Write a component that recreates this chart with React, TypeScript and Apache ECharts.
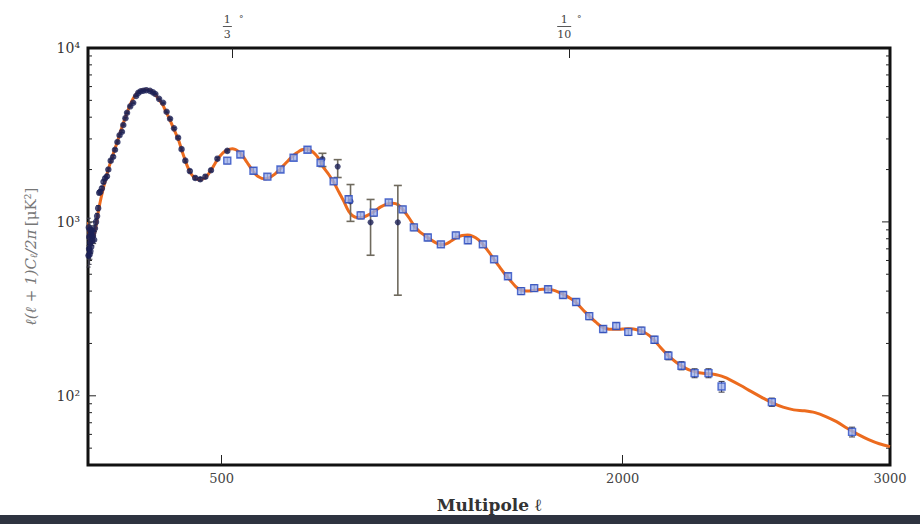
import React, { useEffect, useRef } from "react";
import * as echarts from "echarts";

// Theory curve (orange): [multipole ℓ, ℓ(ℓ+1)Cℓ/2π in μK²]
const theoryCurve: [number, number][] = [
  [2, 1000], [6, 790], [12, 740], [20, 800], [30, 950], [40, 1180], [50, 1400], [60, 1620], [70, 1860],
  [80, 2100], [90, 2350], [100, 2620], [110, 2900], [120, 3250], [130, 3620], [140, 4000], [150, 4400],
  [160, 4800], [170, 5150], [180, 5420], [190, 5600], [200, 5700], [210, 5750], [220, 5760], [230, 5720],
  [240, 5620], [250, 5440], [260, 5200], [270, 4950], [280, 4700], [290, 4350], [300, 4050], [310, 3750],
  [320, 3450], [330, 3180], [340, 2920], [350, 2600], [360, 2350], [370, 2120], [380, 1960], [390, 1850],
  [400, 1790], [410, 1760], [420, 1750], [430, 1765], [440, 1810], [450, 1880], [460, 1980], [470, 2100],
  [480, 2230], [490, 2350], [500, 2450], [510, 2530], [520, 2590], [530, 2620], [540, 2630], [550, 2610],
  [560, 2560], [570, 2480], [580, 2380], [590, 2260], [600, 2140], [610, 2030], [620, 1930], [630, 1860],
  [640, 1810], [650, 1780], [660, 1770], [670, 1775], [680, 1800], [690, 1840], [700, 1890], [710, 1950],
  [720, 2020], [730, 2100], [740, 2180], [750, 2260], [760, 2340], [770, 2420], [780, 2490], [790, 2550],
  [800, 2600], [810, 2620], [820, 2620], [830, 2590], [840, 2530], [850, 2450], [860, 2350], [877, 2100],
  [900, 1880], [919, 1690], [940, 1470], [955, 1330], [975, 1150], [990, 1085], [1005, 1060], [1025, 1060],
  [1045, 1090], [1069, 1145], [1095, 1220], [1120, 1270], [1140, 1280], [1160, 1255], [1181, 1160],
  [1200, 1060], [1220, 950], [1240, 880], [1260, 835], [1280, 795], [1300, 760], [1320, 740], [1340, 748],
  [1360, 780], [1380, 815], [1400, 835], [1420, 840], [1440, 825], [1460, 790], [1480, 735], [1500, 670],
  [1520, 605], [1540, 550], [1560, 500], [1580, 460], [1600, 425], [1620, 405], [1640, 400], [1660, 402],
  [1680, 407], [1700, 410], [1720, 410], [1740, 405], [1760, 395], [1780, 382], [1800, 367], [1820, 350],
  [1840, 326], [1860, 303], [1880, 283], [1900, 265], [1920, 250], [1940, 243], [1960, 241], [1980, 241],
  [2000, 242], [2020, 243], [2040, 242], [2060, 238], [2080, 232], [2100, 222], [2120, 207], [2140, 191],
  [2160, 177], [2180, 165], [2200, 156], [2220, 149], [2240, 143], [2260, 139], [2280, 136], [2300, 135],
  [2320, 134], [2340, 133], [2360, 131], [2380, 128], [2400, 124], [2440, 115], [2480, 106], [2520, 98],
  [2560, 91], [2600, 86], [2640, 83], [2680, 82], [2720, 80], [2760, 76], [2800, 71], [2840, 65],
  [2880, 60], [2920, 56], [2960, 53], [3000, 51],
];

// Low-ℓ measurements (dark navy circles): [ℓ, value, error]
const lowEllPoints: [number, number, number][] = [
  [2, 640, 90], [3, 930, 120], [4, 700, 90], [5, 820, 90], [6, 650, 80], [7, 900, 90], [8, 760, 80],
  [9, 680, 70], [10, 850, 80], [12, 720, 60], [14, 890, 60], [16, 780, 50], [18, 830, 50], [20, 870, 50],
  [23, 790, 40], [26, 920, 40], [30, 1000, 40], [34, 1080, 40], [38, 1200, 40], [42, 1470, 40],
  [46, 1490, 40], [52, 1560, 40], [58, 1700, 40], [64, 1780, 40], [71, 1830, 40], [76, 2000, 40],
  [85, 2250, 40], [94, 2370, 40], [101, 2600, 40], [110, 2880, 40], [118, 3150, 40], [127, 3300, 40],
  [132, 3610, 40], [140, 3950, 40], [146, 4240, 40], [158, 4620, 40], [169, 4840, 40], [180, 5300, 40],
  [188, 5520, 40], [197, 5640, 40], [207, 5680, 40], [218, 5720, 40], [232, 5670, 40], [243, 5560, 40],
  [252, 5440, 40], [266, 5100, 40], [281, 4840, 40], [294, 4300, 40], [307, 3920, 40], [322, 3450, 40],
  [337, 3050, 40], [350, 2620, 40], [364, 2250, 40], [381, 1960, 40], [401, 1790, 40], [420, 1760, 40],
  [439, 1820, 40], [460, 1980, 40], [484, 2310, 40], [521, 2560, 40],
];

// High-ℓ measurements (blue squares): [ℓ, value, error]
const highEllPoints: [number, number, number][] = [
  [521, 2250, 90], [570, 2440, 90], [619, 1970, 80], [671, 1820, 70], [720, 2000, 70], [769, 2340, 80],
  [821, 2600, 90], [870, 2190, 80], [919, 1710, 70], [975, 1350, 60], [1020, 1090, 50], [1069, 1130, 50],
  [1125, 1295, 50], [1177, 1180, 50], [1219, 930, 40], [1271, 814, 35], [1320, 743, 30], [1376, 837, 35],
  [1421, 785, 35], [1477, 743, 30], [1519, 609, 25], [1571, 487, 20], [1620, 400, 18], [1669, 416, 18],
  [1721, 410, 18], [1777, 380, 16], [1826, 346, 15], [1875, 287, 13], [1927, 242, 11], [1976, 252, 11],
  [2021, 233, 11], [2070, 237, 11], [2119, 210, 10], [2171, 170, 9], [2220, 149, 8], [2269, 135, 8],
  [2321, 135, 8], [2370, 113, 8], [2558, 92, 5], [2858, 62, 4],
];

// Sparse measurements with large error bars: [ℓ, value, low, high]
const sparsePoints: [number, number, number, number][] = [
  [877, 2300, 2080, 2480], [934, 2080, 1800, 2280], [982, 1311, 1007, 1640],
  [1057, 994, 643, 1346], [1159, 994, 379, 1620],
];

const bottomTickValues = [500, 2000];
const bottomLabelValues = [500, 2000, 3000];
const yMajorLabels: Record<number, string> = { 100: "10²", 1000: "10³", 10000: "10⁴" };
const yMajorTicks = [100, 1000];
const yMinorTicks = [
  50, 60, 70, 80, 90, 200, 300, 400, 500, 600, 700, 800, 900,
  2000, 3000, 4000, 5000, 6000, 7000, 8000, 9000,
];
// Top axis: angular scale, [ℓ position, numerator, denominator]
const angularTicks: [number, string, string][] = [
  [540, "1", "3"],
  [1800, "1", "10"],
];

const SERIF = "'DejaVu Serif', 'Liberation Serif', serif";

export default function App() {
  const ref = useRef<HTMLDivElement>(null);

  useEffect(() => {
    if (!ref.current) return;
    const chart = echarts.init(ref.current, null, { renderer: "svg" });

    const errRender = (color: string, cap: number, width: number) => (params: any, api: any) => {
      const x = api.value(0);
      const lo = api.coord([x, api.value(1)]);
      const hi = api.coord([x, api.value(2)]);
      const st = { stroke: color, lineWidth: width };
      return {
        type: "group",
        children: [
          { type: "line", shape: { x1: lo[0], y1: lo[1], x2: hi[0], y2: hi[1] }, style: st },
          { type: "line", shape: { x1: lo[0] - cap, y1: lo[1], x2: lo[0] + cap, y2: lo[1] }, style: st },
          { type: "line", shape: { x1: hi[0] - cap, y1: hi[1], x2: hi[0] + cap, y2: hi[1] }, style: st },
        ],
      };
    };

    const yTickRender = (params: any, api: any) => {
      const p = api.coord([0, api.value(1)]);
      const len = api.value(2);
      const cs = params.coordSys;
      const st = { stroke: "#222", lineWidth: 1 };
      return {
        type: "group",
        children: [
          { type: "line", shape: { x1: cs.x, y1: p[1], x2: cs.x + len, y2: p[1] }, style: st },
          { type: "line", shape: { x1: cs.x + cs.width - len, y1: p[1], x2: cs.x + cs.width, y2: p[1] }, style: st },
        ],
      };
    };

    const option: any = {
      animation: false,
      backgroundColor: "#ffffff",
      grid: {
        left: 88, right: 30, top: 48, bottom: 59,
        show: true, borderColor: "#111", borderWidth: 3, backgroundColor: "#ffffff",
      },
      xAxis: [
        {
          type: "value", min: 0, max: 3000, position: "bottom",
          axisLine: { show: false },
          splitLine: { show: false },
          axisTick: { show: true, inside: true, length: 10, customValues: bottomTickValues, lineStyle: { color: "#222", width: 1 } },
          axisLabel: {
            customValues: bottomLabelValues, margin: 7,
            fontFamily: SERIF, fontSize: 13, color: "#444",
            formatter: (v: number) => String(v),
          },
          name: "Multipole ℓ", nameLocation: "middle", nameGap: 31,
          nameTextStyle: { fontFamily: SERIF, fontSize: 17, fontWeight: "bold", color: "#333" },
        },
        {
          type: "value", min: 0, max: 3000, position: "top",
          axisLine: { show: false },
          splitLine: { show: false },
          axisTick: { show: true, inside: true, length: 10, customValues: angularTicks.map((t) => t[0]), lineStyle: { color: "#222", width: 1 } },
          axisLabel: { show: false },
        },
      ],
      yAxis: [
        {
          type: "log", logBase: 10, min: 40, max: 10000, position: "left",
          axisLine: { show: false },
          splitLine: { show: false },
          axisTick: { show: false },
          axisLabel: {
            margin: 8, fontFamily: SERIF, fontSize: 14, color: "#333",
            showMinLabel: false,
            formatter: (v: number) => yMajorLabels[Math.round(v)] || "",
          },
          name: "{it|ℓ(ℓ + 1)C}{sub|ℓ}{it|/2π} {up|[μK²]}",
          nameLocation: "middle", nameGap: 50,
          nameTextStyle: {
            color: "#777",
            rich: {
              it: { fontFamily: SERIF, fontSize: 15, fontStyle: "italic", color: "#777" },
              sub: { fontFamily: SERIF, fontSize: 10, fontStyle: "italic", color: "#777", verticalAlign: "bottom" },
              up: { fontFamily: SERIF, fontSize: 15, color: "#777" },
            },
          },
        },
      ],
      series: [
        {
          type: "custom", name: "yTicks", silent: true, z: 1,
          data: [
            ...yMajorTicks.map((v) => [0, v, 8]),
            ...yMinorTicks.map((v) => [0, v, 4]),
          ],
          encode: { x: 0, y: 1 },
          renderItem: yTickRender,
        },
        {
          type: "line", name: "theory", data: theoryCurve, showSymbol: false, smooth: 0.3,
          lineStyle: { color: "#ec6b1e", width: 3 }, z: 2, silent: true,
        },
        {
          type: "custom", name: "lowErr", silent: true, z: 3,
          data: lowEllPoints.map(([l, d, e]) => [l, d - e, d + e]),
          encode: { x: 0, y: [1, 2] },
          renderItem: errRender("#3a3a4a", 2, 1),
        },
        {
          type: "custom", name: "highErr", silent: true, z: 3,
          data: highEllPoints.map(([l, d, e]) => [l, d - e, d + e]),
          encode: { x: 0, y: [1, 2] },
          renderItem: errRender("#333344", 3, 1),
        },
        {
          type: "custom", name: "sparseErr", silent: true, z: 3,
          data: sparsePoints.map(([l, , lo, hi]) => [l, lo, hi]),
          encode: { x: 0, y: [1, 2] },
          renderItem: errRender("#6f6a5e", 4, 1.6),
        },
        {
          type: "scatter", name: "lowEll", data: lowEllPoints.map(([l, d]) => [l, d]),
          symbol: "circle", symbolSize: 6.5, z: 4, silent: true,
          itemStyle: { color: "#1b2156" },
        },
        {
          type: "scatter", name: "sparse", data: sparsePoints.map(([l, d]) => [l, d]),
          symbol: "circle", symbolSize: 6, z: 4, silent: true,
          itemStyle: { color: "#1b2156" },
        },
        {
          type: "scatter", name: "highEll", data: highEllPoints.map(([l, d]) => [l, d]),
          symbol: "rect", symbolSize: 7, z: 5, silent: true,
          itemStyle: { color: "#9fb2ec", borderColor: "#2a4cc4", borderWidth: 1.4 },
        },
      ],
    };

    chart.setOption(option);

    const graphics: any[] = [];
    angularTicks.forEach(([l, num, den]) => {
      const px = chart.convertToPixel({ xAxisIndex: 1 }, l) as number;
      const half = den.length > 1 ? 7 : 4.5;
      const fc = px - 5;
      const txt = { font: `11px ${SERIF}`, fill: "#444", align: "center", verticalAlign: "middle" };
      graphics.push({
        type: "group", x: 0, y: 0, silent: true,
        children: [
          { type: "text", x: fc, y: 19, style: { ...txt, text: num } },
          { type: "line", shape: { x1: fc - half, y1: 26.5, x2: fc + half, y2: 26.5 }, style: { stroke: "#444", lineWidth: 0.9 } },
          { type: "text", x: fc, y: 34, style: { ...txt, text: den } },
          { type: "text", x: px + (den.length > 1 ? 10 : 9), y: 19, style: { ...txt, font: `9px ${SERIF}`, text: "°" } },
        ],
      });
    });
    graphics.push({
      type: "rect", left: 0, top: 515, silent: true,
      shape: { width: 920, height: 9 },
      style: { fill: "#2e3340" },
    });
    chart.setOption({ graphic: graphics });

    return () => chart.dispose();
  }, []);

  return (
    <div
      ref={ref}
      style={{ position: "fixed", left: 0, top: 0, width: 920, height: 524, background: "#fff" }}
    />
  );
}
